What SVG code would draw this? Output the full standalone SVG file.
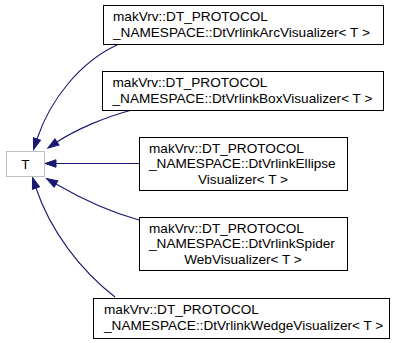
<svg xmlns="http://www.w3.org/2000/svg" width="397" height="343" viewBox="0 0 397 343">
<style>
.node rect{fill:#fff;stroke:#000;stroke-width:1}
#nodeT rect{stroke:#bfbfbf}
text{font-family:"Liberation Sans",Arial,Helvetica,sans-serif;font-size:13.6px;fill:#000}
.edge{fill:none;stroke:#191970;stroke-width:1.1;marker-end:url(#ah)}
</style>
<defs>
<marker id="ah" markerUnits="userSpaceOnUse" markerWidth="12" markerHeight="8" refX="0" refY="3.75" orient="auto" overflow="visible">
<path d="M0,0 L11,3.75 L0,7.5 z" fill="#191970" stroke="#191970" stroke-width="1"/>
</marker>
</defs>
<rect width="397" height="343" fill="#fff"/>
<g id="edges">
<path class="edge" d="M117,45 C80,62 50,100 37,139"/>
<path class="edge" d="M132,110 C105,117 75,130 57,142"/>
<path class="edge" d="M139,163.5 L56,163.5"/>
<path class="edge" d="M139,220 C110,212 80,198 56,184"/>
<path class="edge" d="M115,297 C80,270 50,230 36,188"/>
</g>
<g id="nodeT" class="node">
<rect x="6.5" y="151.5" width="38" height="25"/>
<text x="25.5" y="168.5" text-anchor="middle">T</text>
</g>
<g id="nodeArc" class="node">
<rect x="103.5" y="5.5" width="280" height="39"/>
<text x="113" y="21">makVrv::DT_PROTOCOL</text>
<text x="113" y="36.5">_NAMESPACE::DtVrlinkArcVisualizer&lt; T &gt;</text>
</g>
<g id="nodeBox" class="node">
<rect x="102.5" y="71.5" width="281" height="39"/>
<text x="112.5" y="87">makVrv::DT_PROTOCOL</text>
<text x="112.5" y="102.5">_NAMESPACE::DtVrlinkBoxVisualizer&lt; T &gt;</text>
</g>
<g id="nodeEllipse" class="node">
<rect x="139.5" y="137.5" width="208" height="53"/>
<text x="149" y="152.5">makVrv::DT_PROTOCOL</text>
<text x="149" y="168">_NAMESPACE::DtVrlinkEllipse</text>
<text x="243" y="183.5" text-anchor="middle">Visualizer&lt; T &gt;</text>
</g>
<g id="nodeSpider" class="node">
<rect x="139.5" y="217.5" width="208" height="53"/>
<text x="149" y="232.5">makVrv::DT_PROTOCOL</text>
<text x="149" y="248">_NAMESPACE::DtVrlinkSpider</text>
<text x="243" y="263.5" text-anchor="middle">WebVisualizer&lt; T &gt;</text>
</g>
<g id="nodeWedge" class="node">
<rect x="93.5" y="298.5" width="296" height="40"/>
<text x="104" y="314">makVrv::DT_PROTOCOL</text>
<text x="104" y="329.5">_NAMESPACE::DtVrlinkWedgeVisualizer&lt; T &gt;</text>
</g>
</svg>
